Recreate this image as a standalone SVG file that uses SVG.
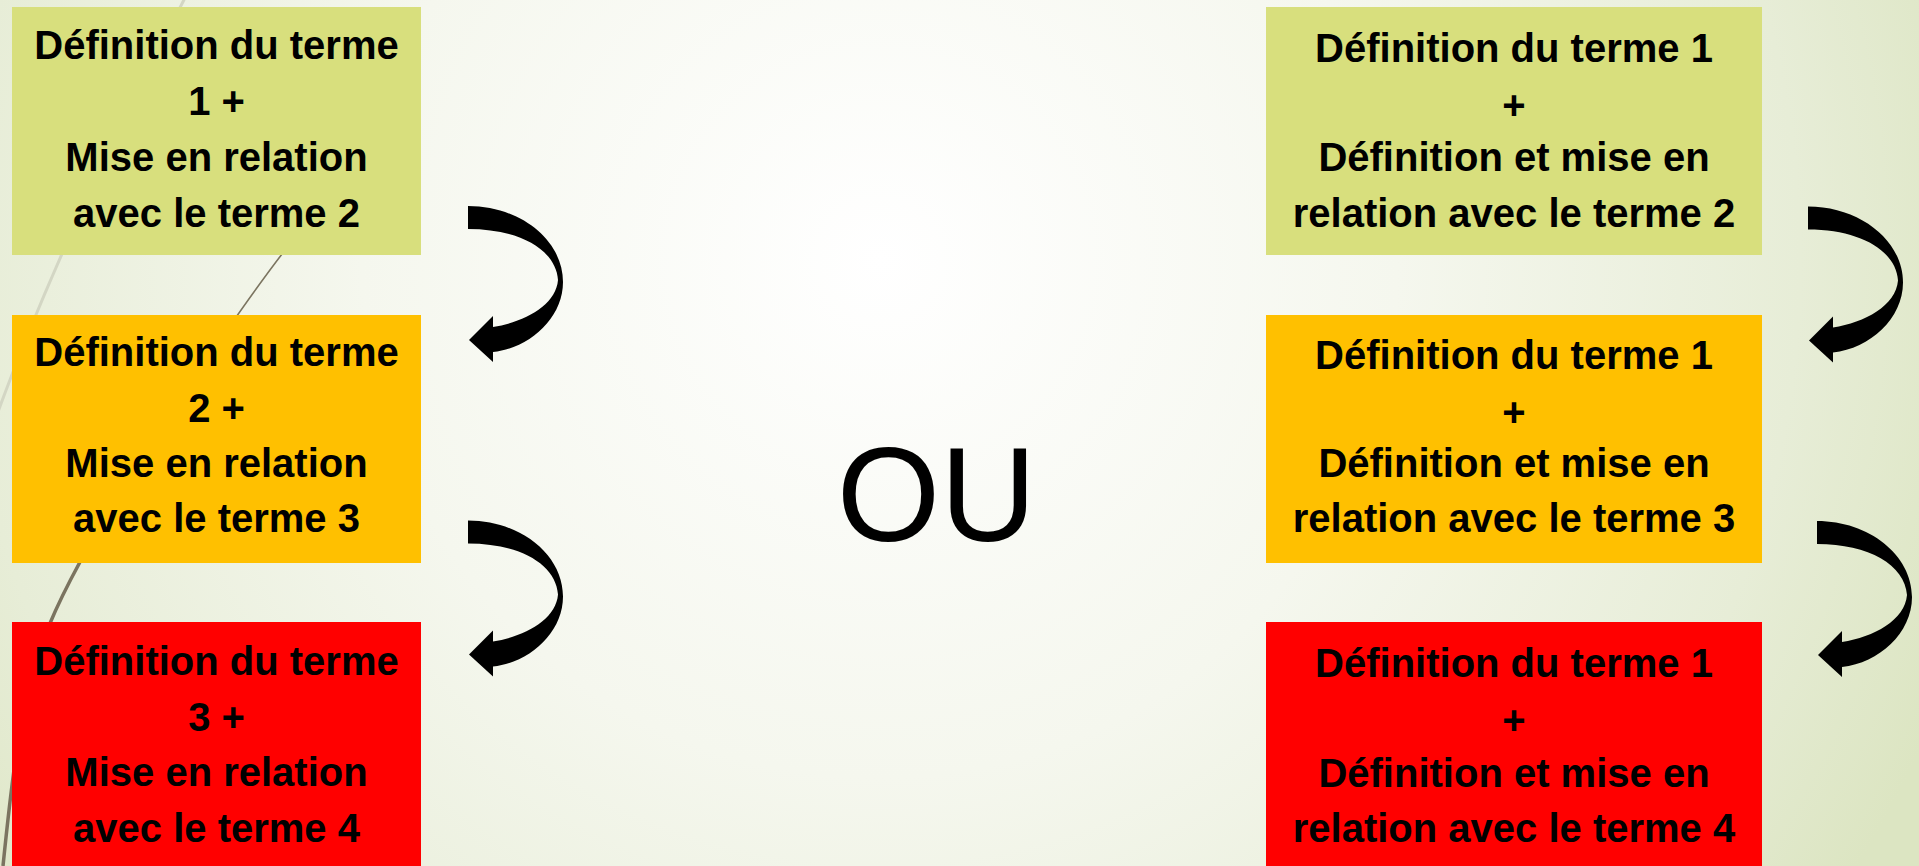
<svg xmlns="http://www.w3.org/2000/svg" width="1919" height="866" viewBox="0 0 1919 866">
<defs>
<radialGradient id="bg" gradientUnits="userSpaceOnUse" cx="880" cy="260" r="1150">
<stop offset="0" stop-color="#ffffff"/>
<stop offset="0.45" stop-color="#f5f7ee"/>
<stop offset="0.8" stop-color="#e7edd7"/>
<stop offset="1" stop-color="#dce5c2"/>
</radialGradient>
<path id="carrow" d="M 0 0 C 52 0, 95 34, 95 76 C 95 112, 62 142, 25 146 L 25 156 L 1 134 L 25 110 L 25 121 C 57 116, 88 99, 90 74 C 88 44, 52 23, 0 23 Z"/>
<style>
.box text{font-family:"Liberation Sans",Arial,sans-serif;font-weight:bold;font-size:40px;fill:#000;text-anchor:middle}
.g{fill:#d8df7d}.o{fill:#ffc000}.r{fill:#ff0000}
.arrow{fill:#000}
.deco-light{fill:none;stroke:#d3d6c4;stroke-width:3}
.deco-dark{fill:none;stroke:#7b7460}
</style>
</defs>
<rect x="0" y="0" width="1919" height="866" fill="url(#bg)"/>
<g id="decor">
<path class="deco-light" d="M 188 -8 Q 60 240 -5 420"/>
<path class="deco-dark" stroke-width="1.6" d="M 310 219 C 250 290, 130 470, 80 562"/>
<path class="deco-dark" stroke-width="3.5" d="M 80 562 C 30 654, 20 700, 3 866"/>
</g>
<g id="node-l1" class="box">
<rect class="g" x="12" y="7" width="409" height="248"/>
<text x="216.5" y="59">Définition du terme</text>
<text x="216.5" y="115">1 +</text>
<text x="216.5" y="171">Mise en relation</text>
<text x="216.5" y="227">avec le terme 2</text>
</g>
<g id="node-l2" class="box">
<rect class="o" x="12" y="315" width="409" height="248"/>
<text x="216.5" y="366">Définition du terme</text>
<text x="216.5" y="422">2 +</text>
<text x="216.5" y="477">Mise en relation</text>
<text x="216.5" y="532">avec le terme 3</text>
</g>
<g id="node-l3" class="box">
<rect class="r" x="12" y="622" width="409" height="250"/>
<text x="216.5" y="675">Définition du terme</text>
<text x="216.5" y="731">3 +</text>
<text x="216.5" y="786">Mise en relation</text>
<text x="216.5" y="842">avec le terme 4</text>
</g>
<g id="node-r1" class="box">
<rect class="g" x="1266" y="7" width="496" height="248"/>
<text x="1514" y="62">Définition du terme 1</text>
<text x="1514" y="119">+</text>
<text x="1514" y="171">Définition et mise en</text>
<text x="1514" y="227">relation avec le terme 2</text>
</g>
<g id="node-r2" class="box">
<rect class="o" x="1266" y="315" width="496" height="248"/>
<text x="1514" y="369">Définition du terme 1</text>
<text x="1514" y="426">+</text>
<text x="1514" y="477">Définition et mise en</text>
<text x="1514" y="532">relation avec le terme 3</text>
</g>
<g id="node-r3" class="box">
<rect class="r" x="1266" y="622" width="496" height="250"/>
<text x="1514" y="677">Définition du terme 1</text>
<text x="1514" y="734">+</text>
<text x="1514" y="787">Définition et mise en</text>
<text x="1514" y="842">relation avec le terme 4</text>
</g>
<g id="node-ou">
<text x="936.5" y="541" font-family="'Liberation Sans',Arial,sans-serif" font-size="133" fill="#000" text-anchor="middle">OU</text>
</g>
<g id="connectors" class="arrow">
<use href="#carrow" transform="translate(468,206)"/>
<use href="#carrow" transform="translate(468,520.5)"/>
<use href="#carrow" transform="translate(1808,206.5)"/>
<use href="#carrow" transform="translate(1817,521)"/>
</g>
</svg>
